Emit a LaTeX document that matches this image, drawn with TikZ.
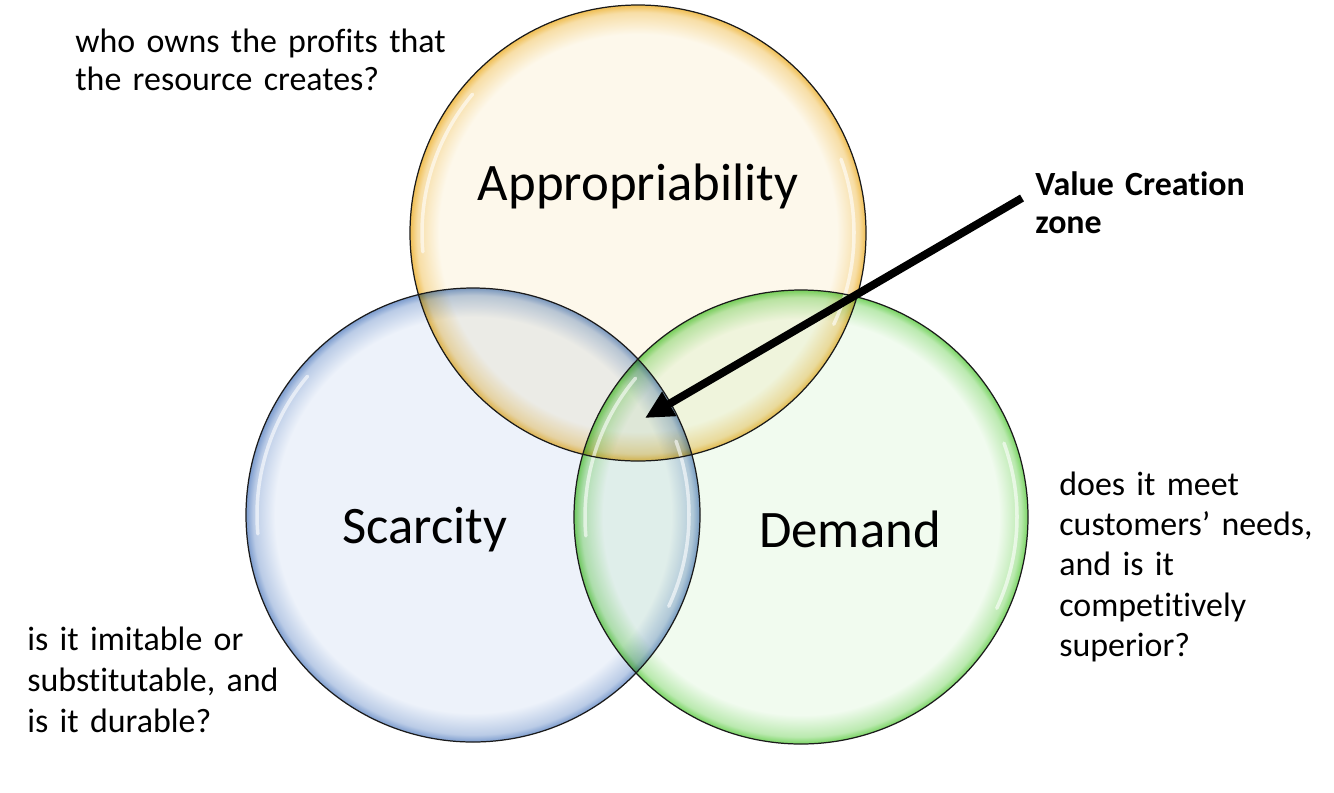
\documentclass[tikz,border=0pt]{standalone}
\usepackage{fontspec}
\setmainfont{Carlito}[Ligatures=NoCommon]
\usetikzlibrary{arrows.meta,calc}

\definecolor{apprfill}{HTML}{FDF8EB}
\definecolor{apprrim}{HTML}{F0BE52}
\definecolor{scarfill}{HTML}{EDF2FA}
\definecolor{scarrim}{HTML}{7C9CCE}
\definecolor{demfill}{HTML}{F1FBEF}
\definecolor{demrim}{HTML}{78D462}
\definecolor{outline}{HTML}{1A1A1A}

% soft coloured rim, flat inside
\pgfdeclareradialshading{apprglow}{\pgfpointorigin}{color(0bp)=(apprfill); color(21.8bp)=(apprfill); color(24.2bp)=(apprrim!45!apprfill); color(25bp)=(apprrim); color(50bp)=(apprrim)}
\pgfdeclareradialshading{scarglow}{\pgfpointorigin}{color(0bp)=(scarfill); color(21.8bp)=(scarfill); color(24.2bp)=(scarrim!45!scarfill); color(25bp)=(scarrim); color(50bp)=(scarrim)}
\pgfdeclareradialshading{demglow}{\pgfpointorigin}{color(0bp)=(demfill); color(21.8bp)=(demfill); color(24.2bp)=(demrim!45!demfill); color(25bp)=(demrim); color(50bp)=(demrim)}

\begin{document}
\begin{tikzpicture}[
  x=0.02cm, y=-0.02cm,
  disc/.style={blend mode=multiply},
  rim line/.style={draw=outline, line width=0.7pt},
  gloss/.style={white, line width=2pt, opacity=0.6, line cap=round},
  big label/.style={anchor=base, inner sep=0pt, font=\fontsize{30}{36}\selectfont},
  note/.style={anchor=base west, inner sep=0pt, align=left, text width=#1,
    font=\fontsize{19.3}{23}\selectfont},
  zone arrow/.style={-{Triangle[length=16pt,width=15pt]}, line width=4.5pt}
]
  \useasboundingbox (0,0) rectangle (1334,792);

  % centres of the three circles
  \coordinate (a) at (638,233);
  \coordinate (s) at (473,515);
  \coordinate (d) at (801,517);

  \path[disc, shading=apprglow] (a) circle (228);
  \path[disc, shading=scarglow] (s) circle (227);
  \path[disc, shading=demglow] (d) circle (227);

  % glossy highlights
  \foreach \c in {a,s,d} {
    \draw[gloss] ($(\c)+(175:216)$) arc[start angle=175, end angle=220, radius=216];
    \draw[gloss] ($(\c)+(-20:216)$) arc[start angle=-20, end angle=25, radius=216];
  }

  \draw[rim line] (a) circle (228);
  \draw[rim line] (s) circle (227);
  \draw[rim line] (d) circle (227);

  \node[big label] (al) at (638,200) {Appropriability};
  \node[big label] (sl) at (425,543) {Scarcity};
  \node[big label] (dl) at (850,547) {Demand};

  \node[note=10cm, font=\fontsize{19.3}{21.8}\selectfont] (q1) at (75,52) {who owns the profits that\\the resource creates?};
  \node[note=8cm, font=\fontsize{19.3}{23.6}\selectfont] (q2) at (27,650) {is it imitable or\\substitutable, and\\is it durable?};
  \node[note=8cm] (q3) at (1059,495) {does it meet\\customers’ needs,\\and is it\\competitively\\superior?};
  \node[note=6cm, font=\fontsize{19.3}{21.8}\selectfont\bfseries] (vcz) at (1035,195) {Value Creation\\zone};

  \coordinate (zone) at (645,418);
  \draw[zone arrow] ([shift={(-13,3)}]vcz.base west) -- (zone);
\end{tikzpicture}
\end{document}
